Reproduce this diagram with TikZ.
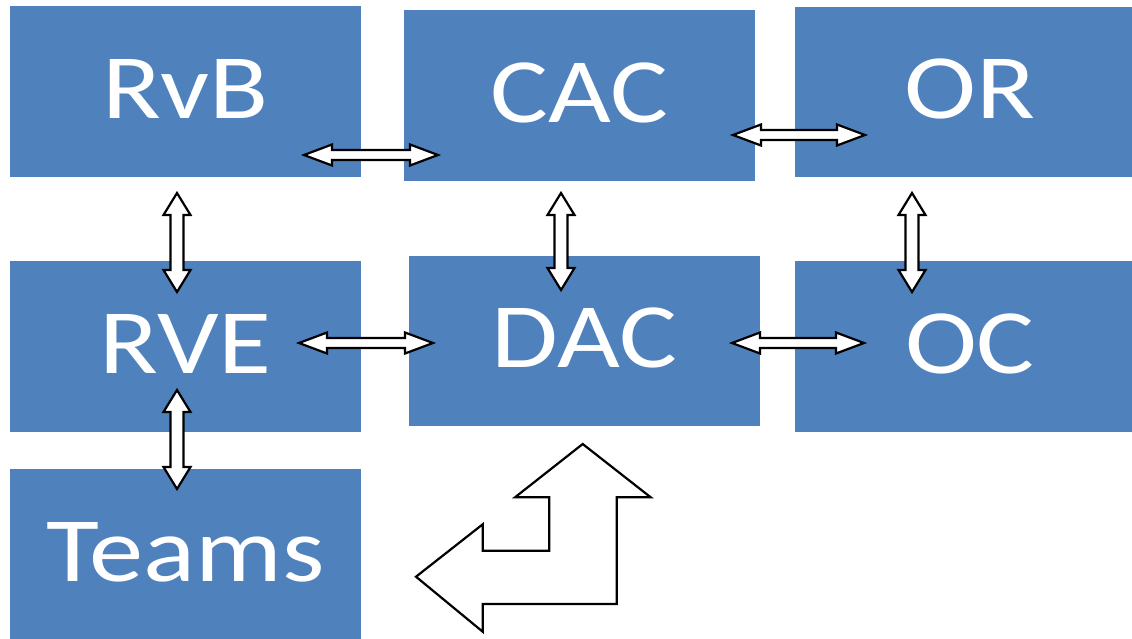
\documentclass[tikz,border=0pt]{standalone}
\usepackage{fontspec}
\setmainfont{Carlito}
\definecolor{boxblue}{HTML}{4F81BD}
\tikzset{
  box/.style={fill=boxblue, draw=none, minimum width=351pt, minimum height=171pt, inner sep=0pt,
    text=white, text depth=6pt, font=\fontsize{92}{110}\selectfont},
  blockarrow/.style={draw=black, fill=white, line width=2.2pt, line join=miter},
}
\newcommand{\stretchtxt}[1]{\scalebox{1.18}[1]{#1}}
% horizontal double block arrow: #1 left x, #2 right x, #3 y
\newcommand{\harrow}[3]{%
  \draw[blockarrow] (#1,#3) -- ++(28,-10.5) -- ++(0,5.5) -- (#2-28,#3-5) -- ++(0,-5.5) -- (#2,#3)
    -- (#2-28,#3+10.5) -- ++(0,-5.5) -- (#1+28,#3+5) -- ++(0,5.5) -- cycle;}
% vertical double block arrow: #1 x, #2 top y, #3 bottom y
\newcommand{\varrow}[3]{%
  \draw[blockarrow] (#1,#2) -- ++(13.5,22) -- ++(-7,0) -- (#1+6.5,#3-22) -- ++(7,0) -- (#1,#3)
    -- (#1-13.5,#3-22) -- ++(7,0) -- (#1-6.5,#2+22) -- ++(-7,0) -- cycle;}
\begin{document}
\begin{tikzpicture}[x=1pt,y=-1pt]
\useasboundingbox (0,0) rectangle (1132,638);
\clip (0,0) rectangle (1132,638);
\fill[white] (0,0) rectangle (1132,638);
\node[box] (rvb) at (185.5,91.5) {\stretchtxt{RvB}};
\node[box] (cac) at (579.5,95.5) {\stretchtxt{CAC}};
\node[box, minimum width=350pt, minimum height=170pt] (or) at (970,92) {\stretchtxt{OR}};
\node[box] (rve) at (185.5,346.5) {\stretchtxt{RVE}};
\node[box, minimum height=170pt] (dac) at (584.5,341) {\stretchtxt{DAC}};
\node[box, minimum width=350pt] (oc) at (970,346.5) {\stretchtxt{OC}};
\node[box] (teams) at (185.5,554.5) {\stretchtxt{Teams}};
% connectors (block double arrows)
\harrow{304}{438}{155}
\harrow{733}{865}{135}
\harrow{299}{433}{343}
\harrow{732}{864}{343}
\varrow{177}{193}{292}
\varrow{561}{193}{290}
\varrow{912}{193}{292}
\varrow{177}{390}{489}
% bent arrow
\draw[blockarrow] (582.7,444) -- (650.7,497.3) -- (616.7,497.3) -- (616.7,604) -- (482.7,604)
  -- (482.7,631.7) -- (416,576.7) -- (482.7,524.3) -- (482.7,550.7) -- (549.3,550.7)
  -- (549.3,497.3) -- (515,497.3) -- cycle;
\end{tikzpicture}
\end{document}
